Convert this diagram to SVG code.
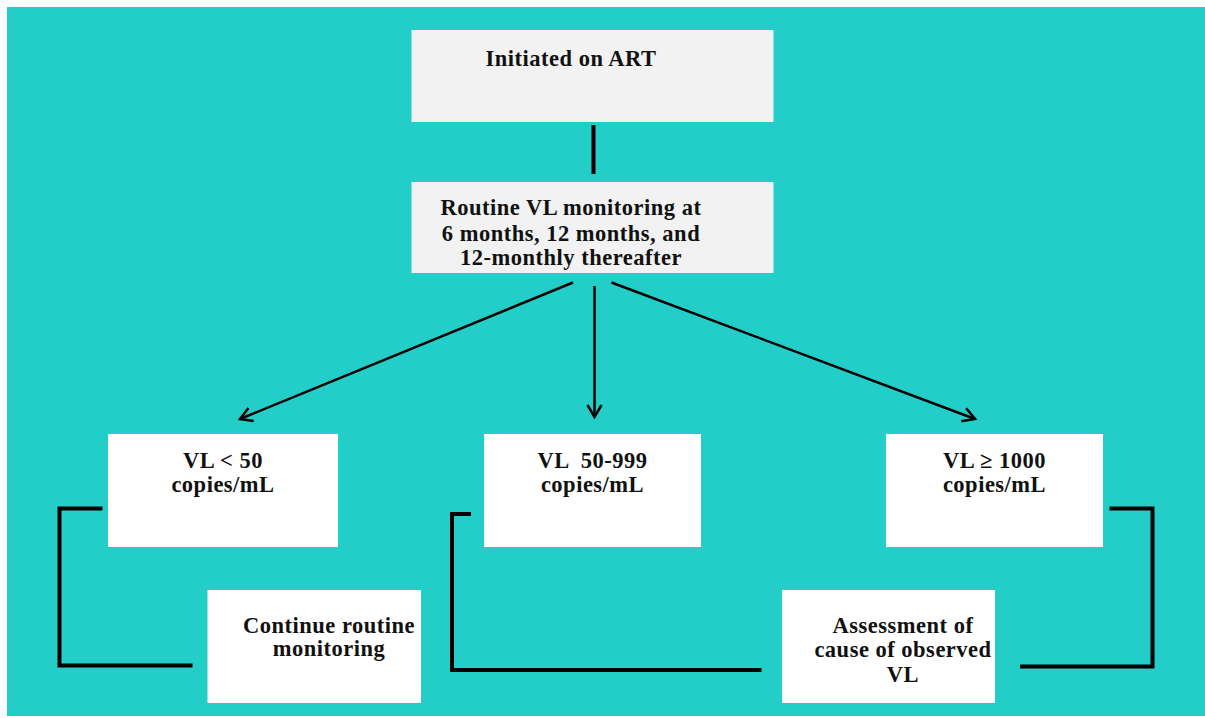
<svg xmlns="http://www.w3.org/2000/svg" width="1205" height="718" viewBox="0 0 1205 718">
<style>
.t{font-family:"Liberation Serif","Times New Roman",serif;font-weight:bold;font-size:22.5px;letter-spacing:0.5px;fill:#111;text-anchor:middle}
.grey{fill:#F2F2F2}
.white{fill:#FFFFFF}
.arr{stroke:#000;stroke-width:2.5;fill:none}
.elbow{stroke:#000;stroke-width:4;fill:none;stroke-linejoin:miter}
</style>
<defs>
<marker id="ah" markerUnits="userSpaceOnUse" markerWidth="20" markerHeight="20" viewBox="0 0 20 20" refX="16" refY="10" orient="auto">
<path d="M4,3 L16,10 L4,17" fill="none" stroke="#000" stroke-width="2.5"/>
</marker>
</defs>
<rect x="0" y="0" width="1205" height="718" fill="#FFFFFF"/>
<rect x="7" y="7" width="1198" height="709" fill="#24CEC8"/>
<g id="n-art">
<rect class="grey" x="411.5" y="30" width="362" height="92"/>
<text class="t" x="571" y="65.5">Initiated on ART</text>
</g>
<g id="n-routine">
<rect class="grey" x="411.5" y="182" width="362" height="91"/>
<text class="t" x="571" y="215">Routine VL monitoring at</text>
<text class="t" x="571" y="240.5">6 months, 12 months, and</text>
<text class="t" x="571" y="265">12-monthly thereafter</text>
</g>
<g id="n-lt50">
<rect class="white" x="108" y="434" width="230" height="113"/>
<text class="t" x="223" y="467.5">VL &lt; 50</text>
<text class="t" x="223" y="491.5">copies/mL</text>
</g>
<g id="n-50-999">
<rect class="white" x="484" y="434" width="217" height="113"/>
<text class="t" x="592.5" y="467.5" xml:space="preserve">VL  50-999</text>
<text class="t" x="592.5" y="491.5">copies/mL</text>
</g>
<g id="n-ge1000">
<rect class="white" x="886" y="434" width="217" height="113"/>
<text class="t" x="994.5" y="467.5">VL ≥ 1000</text>
<text class="t" x="994.5" y="491.5">copies/mL</text>
</g>
<g id="n-continue">
<rect class="white" x="207.5" y="590" width="213.5" height="113"/>
<text class="t" x="329" y="632.5">Continue routine</text>
<text class="t" x="329" y="656">monitoring</text>
</g>
<g id="n-assess">
<rect class="white" x="782" y="590" width="213" height="113"/>
<text class="t" x="903" y="632.5">Assessment of</text>
<text class="t" x="903" y="656.5">cause of observed</text>
<text class="t" x="903" y="681.5">VL</text>
</g>
<g id="connectors">
<line x1="593.5" y1="125" x2="593.5" y2="174" stroke="#000" stroke-width="4"/>
<line class="arr" x1="573" y1="282.5" x2="240" y2="419" marker-end="url(#ah)"/>
<line class="arr" x1="594.5" y1="286" x2="594.5" y2="417" marker-end="url(#ah)"/>
<line class="arr" x1="611.5" y1="282.5" x2="975" y2="419" marker-end="url(#ah)"/>
<polyline class="elbow" points="102.5,508.5 59.5,508.5 59.5,665.5 192.5,665.5"/>
<polyline class="elbow" points="471,514 452,514 452,670 761.5,670"/>
<polyline class="elbow" points="1109.5,508.5 1152.5,508.5 1152.5,666.5 1020,666.5"/>
</g>
</svg>
